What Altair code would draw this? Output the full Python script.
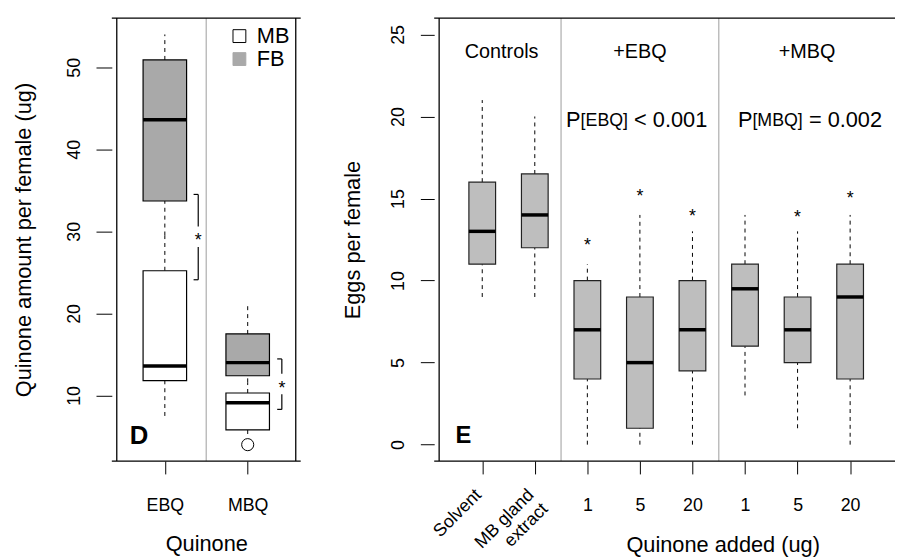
import altair as alt
import pandas as pd

FONT = "Liberation Sans"

# ---------------- Panel D : quinone amount per female ----------------
d_quinones = ["EBQ", "MBQ"]
d_pos = [1, 2]
# MB (white boxes)
mb_low = [7.5, 5.3]
mb_q1 = [11.8, 5.8]
mb_med = [13.6, 9.1]
mb_q3 = [25.2, 10.3]
mb_high = [29.5, 11.6]
# FB (grey boxes)
fb_low = [29.5, 11.6]
fb_q1 = [33.7, 12.4]
fb_med = [43.6, 14.0]
fb_q3 = [50.9, 17.5]
fb_high = [54.0, 21.0]
d_outlier_pos = [2]
d_outlier_val = [4.0]
d_legend_labels = ["MB", "FB"]
d_legend_vals = [53.8, 51.0]
d_legend_x = [1.90, 1.90]
d_legend_text_x = [2.11, 2.11]
# significance brackets (EBQ, MBQ)
d_br_x = [1.403, 2.412]
d_br_tick_x = [1.347, 2.356]
d_br_top = [34.5, 14.45]
d_br_gap_top = [30.6, 12.65]
d_br_gap_bot = [28.1, 10.15]
d_br_bot = [24.1, 8.3]
d_star_val = [29.4, 11.4]
d_divider = [1.5]
d_xdomain = [0.42, 2.58]
d_ydomain = [2, 56]

# ---------------- Panel E : eggs per female ----------------
e_pos = [1, 2, 3, 4, 5, 6, 7, 8]
e_tick_labels = ["", "", "1", "5", "20", "1", "5", "20"]
e_rot_labels = ["Solvent", "MB gland\nextract"]
e_rot_pos = [1, 2]
e_rot_val = [-3.13, -3.13]
e_low = [9, 9, 0, 0, 0, 3, 1, 0]
e_q1 = [11, 12, 4, 1, 4.5, 6, 5, 4]
e_med = [13, 14, 7, 5, 7, 9.5, 7, 9]
e_q3 = [16, 16.5, 10, 9, 10, 11, 9, 11]
e_high = [21, 20, 11, 14, 13, 14, 13, 14]
e_star = [None, None, 12.4, 15.4, 14.2, None, 14.1, 15.3]
e_groups = ["Controls", "+EBQ", "+MBQ"]
e_group_pos = [1.369, 4.0, 7.18]
e_group_val = [23.93, 23.93, 23.93]
e_p_center = [3.938, 7.236]
e_p_val = [19.77, 19.77]
e_p_main = ["<\u00a00.001", "=\u00a00.002"]
e_p_sub = ["[EBQ]", "[MBQ]"]
e_divider = [2.5, 5.5]
e_xdomain = [0.18, 8.76]
e_ydomain = [-1, 26]

BLACK = "black"
FB_GREY = "#a9a9a9"
E_GREY = "#bebebe"
DIV_GREY = "#bdbdbd"

ax_common = dict(domain=False, grid=False, ticks=True, tickColor=BLACK, tickWidth=1,
                 labelColor=BLACK, titleColor=BLACK, labelFont=FONT, titleFont=FONT,
                 titleFontWeight="normal", labelFontSize=18, titleFontSize=22,
                 labelOverlap=False, labelFlush=False)


def expr_list(labels):
    return "[" + ",".join("'" + s + "'" for s in labels) + "][round(datum.value)-1]"


# ================= Panel D =================
xd = alt.Scale(domain=d_xdomain, nice=False, zero=False)
yd = alt.Scale(domain=d_ydomain, nice=False, zero=False)

axis_x_d = alt.Axis(title="Quinone", values=d_pos, labelExpr=expr_list(d_quinones),
                    tickSize=13, labelPadding=23, labelBaseline="top", titlePadding=19,
                    **ax_common)
axis_y_d = alt.Axis(title="Quinone amount per female (ug)", values=[10, 20, 30, 40, 50],
                    tickSize=16, labelAngle=270, labelAlign="center",
                    labelBaseline="alphabetic", labelPadding=17, titlePadding=30,
                    **ax_common)


def XD(f):
    return alt.X(f, type="quantitative", scale=xd, axis=axis_x_d)


def YD(f):
    return alt.Y(f, type="quantitative", scale=yd, axis=axis_y_d)


df_d = pd.DataFrame({
    "pos": d_pos * 2,
    "series": ["MB", "MB", "FB", "FB"],
    "low": mb_low + fb_low,
    "q1": mb_q1 + fb_q1,
    "med": mb_med + fb_med,
    "q3": mb_q3 + fb_q3,
    "high": mb_high + fb_high,
    "fill": ["white", "white", FB_GREY, FB_GREY],
})

base_d = alt.Chart(df_d)
d_wh_lo = base_d.mark_rule(strokeDash=[4, 4], color=BLACK, strokeWidth=1).encode(
    x=XD("pos"), y=YD("low"), y2="q1:Q")
d_wh_hi = base_d.mark_rule(strokeDash=[4, 4], color=BLACK, strokeWidth=1).encode(
    x=XD("pos"), y=YD("q3"), y2="high:Q")
d_box = base_d.mark_bar(size=44, stroke=BLACK, strokeWidth=1.2).encode(
    x=XD("pos"), y=YD("q1"), y2="q3:Q", fill=alt.Fill("fill:N", scale=None))
d_med = base_d.mark_tick(size=44, thickness=3.5, color=BLACK, orient="horizontal", opacity=1).encode(
    x=XD("pos"), y=YD("med"))

df_d_out = pd.DataFrame({"pos": d_outlier_pos, "v": d_outlier_val})
d_out = alt.Chart(df_d_out).mark_point(shape="circle", size=150, filled=False, color=BLACK,
                                      strokeWidth=1, opacity=1).encode(x=XD("pos"), y=YD("v"))

d_div = alt.Chart(pd.DataFrame({"x": d_divider})).mark_rule(color=DIV_GREY, strokeWidth=1.5).encode(
    x=XD("x"))

d_frame_h = alt.Chart(pd.DataFrame({"y": d_ydomain})).mark_rule(color=BLACK, strokeWidth=1.3).encode(
    y=YD("y"))
d_frame_v = alt.Chart(pd.DataFrame({"x": d_xdomain})).mark_rule(color=BLACK, strokeWidth=1.3).encode(
    x=XD("x"))

df_br = pd.DataFrame({
    "x": d_br_x * 2,
    "y1": d_br_top + d_br_gap_bot,
    "y2": d_br_gap_top + d_br_bot,
})
d_br_v = alt.Chart(df_br).mark_rule(color=BLACK, strokeWidth=1.2).encode(
    x=XD("x"), y=YD("y1"), y2="y2:Q")
df_brt = pd.DataFrame({
    "x1": d_br_tick_x * 2,
    "x2": d_br_x * 2,
    "y": d_br_top + d_br_bot,
})
d_br_t = alt.Chart(df_brt).mark_rule(color=BLACK, strokeWidth=1.2).encode(
    x=XD("x1"), x2="x2:Q", y=YD("y"))
df_dstar = pd.DataFrame({"x": d_br_x, "y": d_star_val})
d_star = alt.Chart(df_dstar).mark_text(text="*", fontSize=18, baseline="alphabetic", dy=10,
                                       color=BLACK).encode(x=XD("x"), y=YD("y"))

df_leg = pd.DataFrame({"x": d_legend_x, "tx": d_legend_text_x, "y": d_legend_vals,
                       "lab": d_legend_labels, "fill": ["white", FB_GREY],
                       "stroke": [BLACK, FB_GREY]})
d_leg_sq = alt.Chart(df_leg).mark_square(size=169, strokeWidth=1, opacity=1).encode(
    x=XD("x"), y=YD("y"),
    fill=alt.Fill("fill:N", scale=None), stroke=alt.Stroke("stroke:N", scale=None))
d_leg_tx = alt.Chart(df_leg).mark_text(fontSize=22, align="left", baseline="middle", color=BLACK).encode(
    x=XD("tx"), y=YD("y"), text="lab:N")

d_tag = alt.Chart(pd.DataFrame({"x": [0.69], "y": [5.0], "t": ["D"]})).mark_text(
    fontSize=26, fontWeight="bold", baseline="middle", color=BLACK).encode(
    x=XD("x"), y=YD("y"), text="t:N")

left = alt.layer(d_wh_lo, d_wh_hi, d_div, d_box, d_med, d_out, d_br_v, d_br_t, d_star,
                 d_leg_sq, d_leg_tx, d_tag, d_frame_h, d_frame_v).properties(width=191, height=448)

# ================= Panel E =================
xe = alt.Scale(domain=e_xdomain, nice=False, zero=False)
ye = alt.Scale(domain=e_ydomain, nice=False, zero=False)

axis_x_e = alt.Axis(title="Quinone added (ug)", values=e_pos, labelExpr=expr_list(e_tick_labels),
                    tickSize=13, labelPadding=23, labelBaseline="top", titlePadding=20,
                    titleX=291.7, **ax_common)
axis_y_e = alt.Axis(title="Eggs per female", values=[0, 5, 10, 15, 20, 25],
                    tickSize=14, labelAngle=270, labelAlign="center",
                    labelBaseline="alphabetic", labelPadding=17.5, titlePadding=25,
                    **ax_common)


def XE(f):
    return alt.X(f, type="quantitative", scale=xe, axis=axis_x_e)


def YE(f):
    return alt.Y(f, type="quantitative", scale=ye, axis=axis_y_e)


df_e = pd.DataFrame({"pos": e_pos, "low": e_low, "q1": e_q1, "med": e_med,
                     "q3": e_q3, "high": e_high})
base_e = alt.Chart(df_e)
e_wh_lo = base_e.mark_rule(strokeDash=[4, 4], color=BLACK, strokeWidth=1).encode(
    x=XE("pos"), y=YE("low"), y2="q1:Q")
e_wh_hi = base_e.mark_rule(strokeDash=[4, 4], color=BLACK, strokeWidth=1).encode(
    x=XE("pos"), y=YE("q3"), y2="high:Q")
e_box = base_e.mark_bar(size=27, fill=E_GREY, stroke="#222222", strokeWidth=1.2, opacity=1).encode(
    x=XE("pos"), y=YE("q1"), y2="q3:Q")
e_med_m = base_e.mark_tick(size=27, thickness=3.5, color=BLACK, orient="horizontal", opacity=1).encode(
    x=XE("pos"), y=YE("med"))

df_estar = pd.DataFrame({"pos": [p for p, s in zip(e_pos, e_star) if s is not None],
                         "y": [s for s in e_star if s is not None]})
e_stars = alt.Chart(df_estar).mark_text(text="*", fontSize=18, baseline="alphabetic", dy=10,
                                        color=BLACK).encode(x=XE("pos"), y=YE("y"))

e_div = alt.Chart(pd.DataFrame({"x": e_divider})).mark_rule(color=DIV_GREY, strokeWidth=1.5).encode(
    x=XE("x"))
e_frame_h = alt.Chart(pd.DataFrame({"y": e_ydomain})).mark_rule(color=BLACK, strokeWidth=1.3).encode(
    y=YE("y"))
e_frame_v = alt.Chart(pd.DataFrame({"x": e_xdomain[:1]})).mark_rule(color=BLACK, strokeWidth=1.3).encode(
    x=XE("x"))

df_groups = pd.DataFrame({"x": e_group_pos, "y": e_group_val, "t": e_groups})
e_head = alt.Chart(df_groups).mark_text(fontSize=20, baseline="middle", color=BLACK).encode(
    x=XE("x"), y=YE("y"), text="t:N")

p_layers = []
for c, v, sub, main, offs in zip(e_p_center, e_p_val, e_p_sub, e_p_main,
                                 [(-71.4, -56.7, -2.6), (-72.9, -58.2, -1.1)]):
    dfp = pd.DataFrame({"x": [c], "y": [v], "p": ["P"], "s": [sub], "m": [main]})
    p_layers.append(alt.Chart(dfp).mark_text(fontSize=22, align="left", baseline="middle",
                                             dx=offs[0], color=BLACK).encode(
        x=XE("x"), y=YE("y"), text="p:N"))
    p_layers.append(alt.Chart(dfp).mark_text(fontSize=18, align="left", baseline="middle",
                                             dx=offs[1], dy=1, color=BLACK).encode(
        x=XE("x"), y=YE("y"), text="s:N"))
    p_layers.append(alt.Chart(dfp).mark_text(fontSize=22, align="left", baseline="middle",
                                             dx=offs[2], color=BLACK).encode(
        x=XE("x"), y=YE("y"), text="m:N"))

df_rot = pd.DataFrame({"x": e_rot_pos, "y": e_rot_val, "t": e_rot_labels})
e_rot = alt.Chart(df_rot).mark_text(fontSize=18, angle=315, align="right", baseline="alphabetic",
                                    lineBreak="\n", color=BLACK).encode(
    x=XE("x"), y=YE("y"), text="t:N")

e_tag = alt.Chart(pd.DataFrame({"x": [0.64], "y": [0.53], "t": ["E"]})).mark_text(
    fontSize=24, fontWeight="bold", baseline="middle", color=BLACK).encode(
    x=XE("x"), y=YE("y"), text="t:N")

right = alt.layer(e_wh_lo, e_wh_hi, e_div, e_box, e_med_m, e_stars, e_head, *p_layers,
                  e_rot, e_tag, e_frame_h, e_frame_v).properties(width=466, height=448)

chart = alt.hconcat(left, right, spacing=40).properties(
    padding={"left": 5, "top": 6, "right": 0, "bottom": 0}
).configure(font=FONT).configure_view(stroke=None)

chart.save("out.html", embed_options={"renderer": "svg", "actions": False})
